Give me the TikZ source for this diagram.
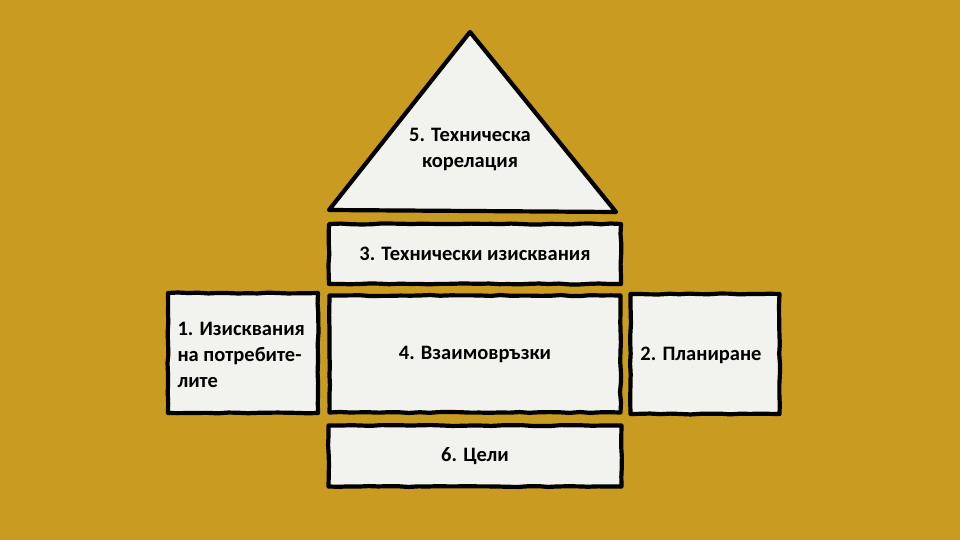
\documentclass[tikz,border=0pt]{standalone}
\usepackage{fontspec}
\setmainfont{Carlito}
\usetikzlibrary{decorations.pathmorphing}
\begin{document}
\begin{tikzpicture}[x=1pt,y=-1pt,
  ink/.style={draw=black,fill=paper,line width=4.2pt,line join=round},
  card/.style={ink,rectangle,inner sep=0pt,
    decoration={random steps,segment length=10pt,amplitude=0.5pt},decorate},
  lbl/.style={font=\bfseries\fontsize{20.5}{26}\selectfont,text=black,align=center}]
\definecolor{bg}{HTML}{C99B20}
\definecolor{paper}{HTML}{F2F2EE}
\pgfmathsetseed{7}
\fill[bg] (0,0) rectangle (960,540);
\useasboundingbox (0,0) rectangle (960,540);
% triangle
\coordinate (tA) at (470,32);
\coordinate (tL) at (329,210);
\coordinate (tR) at (616,212);
\draw[ink] (tA) -- (tR) -- (tL) -- cycle;
\node[lbl] (t5) at (470,150) {5. Техническа\\корелация};
% boxes
\node[card,minimum width=292pt,minimum height=60pt] (b3) at (475,254) {};
\node[lbl] (l3) at (b3.center) {3. Технически изисквания};
\node[card,minimum width=150pt,minimum height=120pt] (b1) at (243,353) {};
\node[lbl,align=left,anchor=west] (l1) at (174,355) {1. Изисквания\\на потребите-\\лите};
\node[card,minimum width=291pt,minimum height=117pt] (b4) at (475,354) {};
\node[lbl] (l4) at (b4.center) {4. Взаимовръзки};
\node[card,minimum width=149pt,minimum height=120pt] (b2) at (705,354) {};
\node[lbl] (l2) at (701,355) {2. Планиране};
\node[card,minimum width=293pt,minimum height=61pt] (b6) at (475,456) {};
\node[lbl] (l6) at (b6.center) {6. Цели};
\end{tikzpicture}
\end{document}
